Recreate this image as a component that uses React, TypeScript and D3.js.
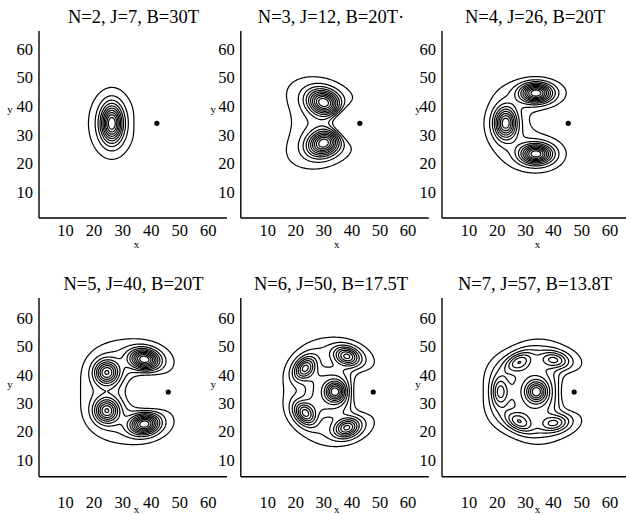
import React, { useMemo } from "react";
import * as d3 from "d3";

// ---- data ----
const titles = [
  "N=2, J=7, B=30T",
  "N=3, J=12, B=20T·",
  "N=4, J=26, B=20T",
  "N=5, J=40, B=20T",
  "N=6, J=50, B=17.5T",
  "N=7, J=57, B=13.8T",
];
const xTicks = [10, 20, 30, 40, 50, 60];
const yTicks = [10, 20, 30, 40, 50, 60];
// impurity position per panel
const impurities: [number, number][] = [
  [42, 34], [42.8, 34], [45.2, 34], [46, 34], [47.6, 34], [47.3, 34],
];
// density maxima: [x, y, amp, sAlong, sAcross, angleDeg, haloWeight, haloAlong, haloAcross]
const peaks1 = [[26.2, 34, 1, 2.5, 4.3, 0, 0.2, 7.4, 10.8]];
const peaks2 = [
  [30, 41.3, 1, 3.8, 2.8, -20, 0.25, 10.8, 6.2],
  [30, 27.1, 1, 3.8, 2.8, 20, 0.25, 10.8, 6.3],
];
const peaks3 = [
  [33.8, 44.6, 1, 3.6, 2.2, 0, 0.25, 8, 3.8],
  [23, 34.1, 0.9, 3.6, 2.6, 90, 0.25, 7, 6.1],
  [33.8, 23.3, 1, 3.6, 2.2, 0, 0.25, 8, 5.0],
];
const peaks4 = [
  [24.4, 40.9, 0.8, 2.8, 2.8, 0, 0.25, 7.2, 7.2],
  [24.4, 27.4, 0.8, 2.8, 2.8, 0, 0.25, 7.2, 7.2],
  [37.7, 45.5, 1, 3.3, 2.3, -10, 0.25, 8.1, 5],
  [37.7, 22.7, 1, 3.3, 2.3, 10, 0.25, 8.1, 5],
];
const peaks5 = [
  [34, 34.1, 0.9, 2.4, 2.4, 0, 0, 1, 1],
  [38.2, 46.6, 0.7, 3.0, 2.1, -18, 0.47, 7.2, 4.1],
  [23.3, 42.4, 0.7, 3.0, 2.1, 49, 0.47, 6, 4.5],
  [23.3, 26.5, 0.7, 3.0, 2.1, -49, 0.47, 6, 4.5],
  [38.2, 21.4, 0.7, 3.0, 2.1, 18, 0.47, 7.2, 4.1],
];
const peaks6 = [
  [33.9, 34.1, 0.9, 2.5, 2.5, 0, 0, 1, 1],
  [27.6, 44.6, 0.55, 3.5, 2.0, 27, 0.46, 7.5, 4.0],
  [40.3, 45.3, 0.55, 3.5, 2.0, -10, 0.46, 8.2, 4.5],
  [21, 34.1, 0.55, 3.5, 2.0, 90, 0.46, 7.5, 4.2],
  [27.6, 23.5, 0.55, 3.5, 2.0, -27, 0.46, 7.5, 4.0],
  [40.3, 23, 0.55, 3.5, 2.0, 10, 0.46, 8.2, 4.5],
];
const peakSets = [peaks1, peaks2, peaks3, peaks4, peaks5, peaks6];
// halo shape exponent per panel (1 = gaussian)
const haloPower = [1.3, 1, 1, 1, 1, 1];
// plateau under the ring: [x, y, height, radius, power]
const plateaus = [
  [30, 34, 0, 5, 4],
  [22, 34, 0.035, 7, 2],
  [30, 34, 0, 5, 4],
  [30, 34, 0, 5, 4],
  [32.5, 34, 0.45, 9, 4],
  [33.5, 34, 0.55, 9.5, 4],
];
// depletion near the impurity: [x, y, depth, sigma]
const depletion = [
  [38.5, 34, 0.04, 3],
  [38, 34, 0.6, 4],
  [38, 34, 0, 4],
  [38, 34, 0.28, 4.5],
  [45, 34, 0.3, 3.5],
  [47, 34, 0.25, 3.5],
];
const levelCount = 10;

// ---- layout ----
const W = 626, H = 515;
const colX10 = [65.6, 267.7, 469];
const colX60 = [208.2, 408.1, 610];
const rowY60 = [49, 318.3];
const rowY10 = [192, 460];
const rowXAxisY = [218, 476.7];
const rowYAxisTop = [31, 298];
const colYAxisX = [39, 240.8, 442];
const xAxisLen = 188;
const rowTickBase = [235.5, 508];
const rowTitleBase = [23, 290];
const colTitleX = [133.5, 331, 535];
const rowXLabelY = [248, 512.5];
const colXLabelX = [136.5, 336.7, 537.5];
const colYLabelX = [10, 213.3, 418];
const rowYLabelY = [113, 388];

const GRID0 = 0, STEP = 0.25, N = 269;

function field(idx: number) {
  const ps = peakSets[idx];
  const hp = haloPower[idx];
  const [hx, hy, hd, hs] = depletion[idx];
  const [px0, py0, ph, pr, pp] = plateaus[idx];
  const vals = new Float64Array(N * N);
  const pre = ps.map(([px, py, a, su, sv, ang, tw, tu, tv]) => {
    const th = (ang * Math.PI) / 180;
    return { px, py, a, su, sv, tw, tu, tv, c: Math.cos(th), s: Math.sin(th) };
  });
  let max = 0;
  for (let j = 0; j < N; j++) {
    const y = GRID0 + j * STEP;
    for (let i = 0; i < N; i++) {
      const x = GRID0 + i * STEP;
      let v = 0;
      for (const p of pre) {
        const dx = x - p.px, dy = y - p.py;
        const u = dx * p.c + dy * p.s;
        const w = -dx * p.s + dy * p.c;
        const q = (u * u) / (p.su * p.su) + (w * w) / (p.sv * p.sv);
        const qt = (u * u) / (p.tu * p.tu) + (w * w) / (p.tv * p.tv);
        v += p.a * (Math.exp(-q / 2) + p.tw * Math.exp(-Math.pow(qt, hp) / 2));
      }
      if (ph > 0) {
        const rr = Math.hypot(x - px0, y - py0) / pr;
        v += ph * Math.exp(-Math.pow(rr, pp));
      }
      const r2 = (x - hx) ** 2 + (y - hy) ** 2;
      v -= hd * Math.exp(-r2 / (2 * hs * hs));
      if (v < 0) v = 0;
      vals[i + j * N] = v;
      if (v > max) max = v;
    }
  }
  return { vals, max };
}

const font = "Liberation Serif";

function Panel({ idx }: { idx: number }) {
  const col = idx % 3, row = Math.floor(idx / 3);
  const xs = d3.scaleLinear().domain([10, 60]).range([colX10[col], colX60[col]]);
  const ys = d3.scaleLinear().domain([10, 60]).range([rowY10[row], rowY60[row]]);
  const paths = useMemo(() => {
    const { vals, max } = field(idx);
    const levels = d3.range(1, levelCount + 1).map((j) => (j * max) / (levelCount + 1));
    const cs = d3.contours().size([N, N]).thresholds(levels)(Array.from(vals));
    const tr = d3.geoTransform({
      point(px: number, py: number) {
        (this as any).stream.point(
          xs(GRID0 + (px - 0.5) * STEP),
          ys(GRID0 + (py - 0.5) * STEP)
        );
      },
    });
    const gp = d3.geoPath(tr);
    return cs.map((c) => gp(c as any) || "");
  }, [idx]);
  const ax = colYAxisX[col];
  const ay = rowXAxisY[row];
  const ts = { fontFamily: font } as React.CSSProperties;
  return (
    <g>
      {paths.map((d, i) => (
        <path key={i} d={d} fill="none" stroke="#000" strokeWidth={1.2} />
      ))}
      <circle cx={xs(impurities[idx][0])} cy={ys(impurities[idx][1])} r={2.6} fill="#000" />
      <line x1={ax} x2={ax} y1={rowYAxisTop[row]} y2={ay} stroke="#000" strokeWidth={1.4} />
      <line x1={ax} x2={ax + xAxisLen} y1={ay} y2={ay} stroke="#000" strokeWidth={1.4} />
      {yTicks.map((t) => (
        <text key={"y" + t} x={ax - 6} y={ys(t)} dy="0.35em" textAnchor="end" style={ts} fontSize={16.5}>
          {t}
        </text>
      ))}
      {xTicks.map((t) => (
        <text key={"x" + t} x={xs(t)} y={rowTickBase[row]} textAnchor="middle" style={ts} fontSize={16.5}>
          {t}
        </text>
      ))}
      <text x={colTitleX[col]} y={rowTitleBase[row]} textAnchor="middle" style={ts} fontSize={18.5}>
        {titles[idx]}
      </text>
      <text x={colXLabelX[col]} y={rowXLabelY[row]} textAnchor="middle" style={ts} fontSize={11}>
        x
      </text>
      <text x={colYLabelX[col]} y={rowYLabelY[row]} textAnchor="middle" style={ts} fontSize={11}>
        y
      </text>
    </g>
  );
}

export default function App() {
  return (
    <svg
      width={W}
      height={H}
      style={{ display: "block", background: "#fff", position: "absolute", left: 0, top: 0 }}
    >
      {d3.range(6).map((i) => (
        <Panel key={i} idx={i} />
      ))}
    </svg>
  );
}
